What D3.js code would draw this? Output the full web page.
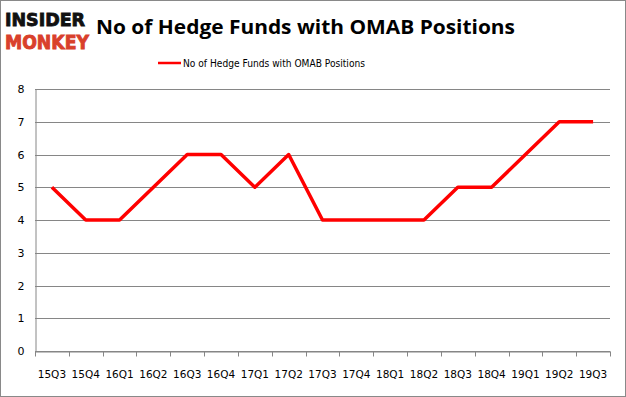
<!DOCTYPE html>
<html><head><meta charset="utf-8">
<script src="https://cdn.jsdelivr.net/npm/d3@7"></script>
<style>body{margin:0;background:#fff}svg{display:block}</style>
</head><body>
<script>
const quarters = ["15Q3","15Q4","16Q1","16Q2","16Q3","16Q4","17Q1","17Q2","17Q3","17Q4","18Q1","18Q2","18Q3","18Q4","19Q1","19Q2","19Q3"];
const funds = [5,4,4,5,6,6,5,6,4,4,4,4,5,5,6,7,7];
const yTicks = [0,1,2,3,4,5,6,7,8];
const seriesName = "No of Hedge Funds with OMAB Positions";
const titleText = "No of Hedge Funds with OMAB Positions";

const W = 626, H = 397;
const svg = d3.select("body").append("svg").attr("width", W).attr("height", H);
svg.append("rect").attr("x",0.5).attr("y",0.5).attr("width",W-1).attr("height",H-1)
  .attr("fill","#fff").attr("stroke","#898989");

const m = {left:35, right:610, top:89, bottom:351};
const x = d3.scaleBand().domain(quarters).range([m.left, m.right]);
const y = d3.scaleLinear().domain([0,8]).range([m.bottom, m.top]);

// gridlines
svg.append("g").selectAll("line").data(yTicks).join("line")
  .attr("x1", m.left).attr("x2", m.right)
  .attr("y1", d=>Math.round(y(d))+0.5).attr("y2", d=>Math.round(y(d))+0.5)
  .attr("stroke", "#868686").attr("stroke-width",1);

// y axis
const ya = svg.append("g").attr("transform",`translate(${m.left+0.5},0)`)
  .call(d3.axisLeft(y).tickValues(yTicks).tickSize(0).tickPadding(11).tickFormat(d3.format("d")));
ya.select(".domain").attr("stroke","#868686");
ya.selectAll("text").attr("font-family","'DejaVu Sans', sans-serif").attr("font-size",11).attr("fill","#000");

// x axis
const xa = svg.append("g").attr("transform",`translate(0,${Math.round(y(0))+0.5})`)
  .call(d3.axisBottom(x).tickSize(0).tickPadding(19));
xa.select(".domain").attr("stroke","#868686");
xa.selectAll("text").attr("font-family","'DejaVu Sans', sans-serif").attr("font-size",10.5).attr("fill","#000");
const tickPos = quarters.map(q=>x(q)).concat([m.right]);
xa.append("g").selectAll("line").data(tickPos).join("line")
  .attr("x1", d=>Math.round(d)+0.5).attr("x2", d=>Math.round(d)+0.5)
  .attr("y1",0).attr("y2",5).attr("stroke","#868686");

// line
const line = d3.line().x((d,i)=>x(quarters[i])+x.bandwidth()/2).y(d=>y(d));
svg.append("path").datum(funds).attr("d", line).attr("fill","none")
  .attr("stroke","#ff0000").attr("stroke-width",3.5).attr("stroke-linejoin","round");

// title
svg.append("text").attr("x",96).attr("y",34)
  .attr("font-family","'Open Sans', 'Liberation Sans', sans-serif").attr("font-weight","bold")
  .attr("font-size",20).attr("textLength",419).attr("lengthAdjust","spacingAndGlyphs")
  .attr("fill","#000").text(titleText);

// legend
svg.append("line").attr("x1",158).attr("x2",181).attr("y1",63).attr("y2",63)
  .attr("stroke","#ff0000").attr("stroke-width",2.5);
svg.append("text").attr("x",183).attr("y",67)
  .attr("font-family","'DejaVu Sans', sans-serif").attr("font-size",10.5)
  .attr("textLength",182).attr("lengthAdjust","spacingAndGlyphs").attr("fill","#000")
  .text(seriesName);

// logo
svg.append("text").attr("x",5).attr("y",26).attr("font-family","'DejaVu Sans', sans-serif")
  .attr("font-weight","900").attr("font-size",18)
  .attr("textLength",80).attr("lengthAdjust","spacingAndGlyphs").attr("fill","#111")
  .attr("stroke","#111").attr("stroke-width",0.9).text("INSIDER");
svg.append("text").attr("x",5).attr("y",49).attr("font-family","'DejaVu Sans', sans-serif")
  .attr("font-weight","900").attr("font-size",19)
  .attr("textLength",84).attr("lengthAdjust","spacingAndGlyphs").attr("fill","#d9402b")
  .attr("stroke","#d9402b").attr("stroke-width",0.9).text("MONKEY");
</script>
</body></html>
